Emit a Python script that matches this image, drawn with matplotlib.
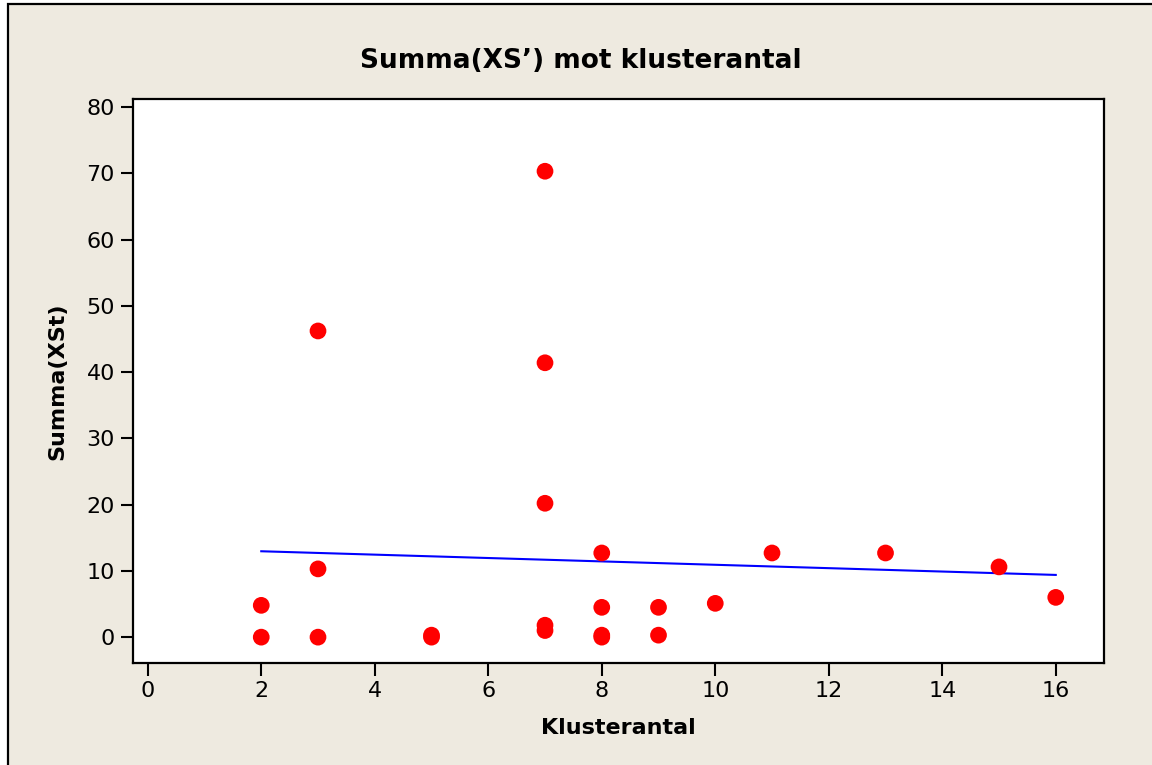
import numpy as np
import matplotlib
matplotlib.use("Agg")
import matplotlib.pyplot as plt
from matplotlib.patches import Rectangle

# Data
kluster = [2, 2, 3, 3, 3, 5, 5, 7, 7, 7, 7, 7, 8, 8, 8, 8, 9, 9, 10, 11, 13, 15, 16]
summa = [4.8, 0.0, 46.2, 10.3, 0.0, 0.3, 0.0, 70.3, 41.4, 20.2, 1.8, 1.0,
         12.7, 4.5, 0.3, 0.0, 4.5, 0.3, 5.1, 12.7, 12.7, 10.6, 6.0]
xticks = list(range(0, 17, 2))
yticks = list(range(0, 81, 10))
title = "Summa(XS\u2019) mot klusterantal"
xlabel = "Klusterantal"
ylabel = "Summa(XSt)"

bg = "#EEEAE0"
plt.rcParams['font.family'] = ['DejaVu Sans']

fig = plt.figure(figsize=(11.52, 7.65), dpi=100, facecolor="white")
W, H = 1152, 765
fig.patches.append(Rectangle((8 / W, -0.05), 1.2, 1 - 4 / H + 0.05,
                             transform=fig.transFigure, facecolor=bg,
                             edgecolor="black", linewidth=1.6, zorder=-5))

ax = fig.add_axes([133 / W, 1 - 663 / H, (1104 - 133) / W, (663 - 99) / H])
ax.set_zorder(2)
ax.set_facecolor("white")

x = np.array(kluster, dtype=float)
y = np.array(summa, dtype=float)
ax.scatter(x, y, s=145, color="#FF0000", edgecolors="none", zorder=3)

# fitted regression line
b, a = np.polyfit(x, y, 1)
xl = np.array([x.min(), x.max()])
ax.plot(xl, a + b * xl, color="#0000FF", linewidth=1.5, zorder=2)

ax.set_xlim(-0.26, 16.85)
ax.set_ylim(-3.9, 81.2)
ax.set_xticks(xticks)
ax.set_yticks(yticks)
ax.tick_params(direction="out", length=9, width=1.5, labelsize=16,
               colors="black", pad=4)
for sp in ax.spines.values():
    sp.set_linewidth(1.6)
    sp.set_color("black")

ax.set_xlabel(xlabel, fontsize=16, fontweight="bold", labelpad=12)
ax.set_ylabel(ylabel, fontsize=16, fontweight="bold", labelpad=14)
fig.text(581 / W, 1 - 61 / H, title, ha="center", va="center",
         fontsize=19, fontweight="bold", zorder=3)

fig.savefig("out.png", dpi=100, facecolor=fig.get_facecolor())
